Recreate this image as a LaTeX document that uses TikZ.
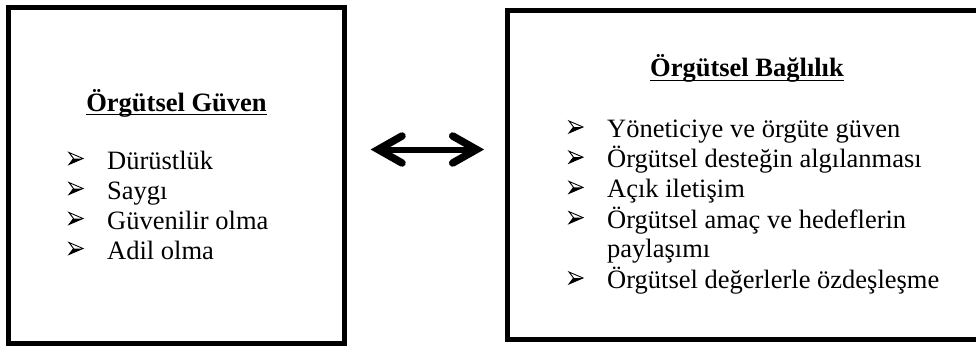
\documentclass[tikz,border=0pt]{standalone}
\usepackage{fontspec}
\setmainfont{Liberation Serif}
\begin{document}
\begin{tikzpicture}[x=1pt, y=-1pt,
  frame/.style={draw=black, line width=5pt, fill=white, inner sep=0pt},
  heading/.style={inner sep=0pt, anchor=base, font=\fontsize{26.5}{30}\selectfont\bfseries},
  item/.style={inner sep=0pt, anchor=base west, font=\fontsize{26.5}{30}\selectfont},
  ulined/.style={line width=1.8pt},
  shaft/.style={line width=6pt},
  barb/.style={line width=7.5pt, line cap=round, line join=miter, miter limit=10},
  % three-d arrowhead list marker, placed at the start of the baseline
  arrowbullet/.pic={
    \fill[black] (14,-10.5) -- (4.5,-10.5) -- (0,-4.5) -- cycle;
    \draw[black, line width=0.9pt, line join=miter] (14,-10.5) -- (0,-16.5) -- (4.5,-10.5) -- (0,-4.5) -- cycle;
  }]
\useasboundingbox (0,0) rectangle (976,345);
\clip (0,0) rectangle (976,345);

% the two boxes
\node[frame, minimum width=336pt, minimum height=335.5pt] (guven) at (176.5,175.25) {};
\node[frame, minimum width=473.5pt, minimum height=329pt] (baglilik) at (744.25,175) {};

% left box: heading and items
\node[heading] (gt) at (176.5,111) {Örgütsel Güven};
\draw[ulined] ([yshift=-3.5pt]gt.base west) -- ([yshift=-3.5pt]gt.base east);
\foreach \txt [count=\i from 0] in {Dürüstlük, Saygı, Güvenilir olma, Adil olma} {
  \pic at (69,169+30*\i) {arrowbullet};
  \node[item] (gi\i) at (107,169+30*\i) {\txt};
}

% right box: heading and items
\node[heading] (bt) at (747,77) {Örgütsel Bağlılık};
\draw[ulined] ([yshift=-3.5pt]bt.base west) -- ([yshift=-3.5pt]bt.base east);
\foreach \txt [count=\i from 0] in {Yöneticiye ve örgüte güven, Örgütsel desteğin algılanması, Açık iletişim, Örgütsel amaç ve hedeflerin} {
  \pic at (569,137.5+30.2*\i) {arrowbullet};
  \node[item] (bi\i) at (607,137.5+30.2*\i) {\txt};
}
\node[item] (bi4) at (607,257.9) {paylaşımı};
\pic at (569,288.5) {arrowbullet};
\node[item] (bi5) at (607,288.5) {Örgütsel değerlerle özdeşleşme};

% double-headed arrow between the boxes
\coordinate (arrL) at (378.2,149.5);
\coordinate (arrR) at (476.5,149.5);
\draw[shaft] (arrL) -- (arrR);
\draw[barb] ([shift={(23.8,-13.5)}]arrL) -- (arrL) -- ([shift={(23.8,13.5)}]arrL);
\draw[barb] ([shift={(-23.8,-13.5)}]arrR) -- (arrR) -- ([shift={(-23.8,13.5)}]arrR);
\end{tikzpicture}
\end{document}
